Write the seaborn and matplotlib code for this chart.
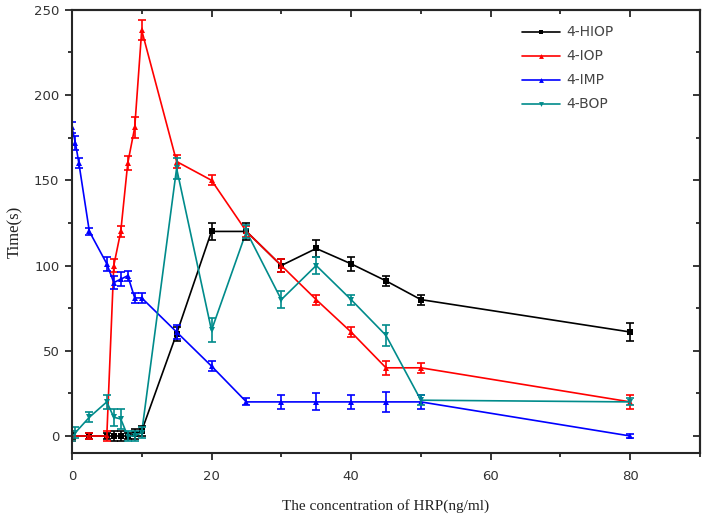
import numpy as np
import pandas as pd
import matplotlib
matplotlib.use("Agg")
import matplotlib.pyplot as plt
import seaborn as sns
from matplotlib.ticker import MultipleLocator

# Datos
series_names = ["4-HIOP", "4-IOP", "4-IMP", "4-BOP"]

hiop_x = [0, 2.5, 5, 6, 7, 8, 9, 10, 15, 20, 25, 30, 35, 40, 45, 50, 80]
hiop_y = [0, 0, 0, 0, 0, 0, 1, 3, 60, 120, 120, 100, 110, 101, 91, 80, 61]
hiop_e = [2, 2, 2, 3, 3, 2, 3, 3, 4, 5, 5, 4, 5, 4, 3, 3, 5]

iop_x = [0, 2.5, 5, 6, 7, 8, 9, 10, 15, 20, 25, 30, 35, 40, 45, 50, 80]
iop_y = [0, 0, 0, 100, 120, 160, 181, 238, 161, 150, 120, 100, 80, 61, 40, 40, 20]
iop_e = [3, 2, 3, 4, 3, 4, 6, 6, 4, 3, 3, 4, 3, 3, 4, 3, 4]

imp_x = [0, 0.5, 1, 2.5, 5, 6, 7, 8, 9, 10, 15, 20, 25, 30, 35, 40, 45, 50, 80]
imp_y = [181, 172, 160, 120, 101, 90, 92, 94, 81, 81, 61, 41, 20, 20, 20, 20, 20, 20, 0]
imp_e = [3, 4, 3, 2, 4, 4, 4, 3, 3, 3, 4, 3, 2, 4, 5, 4, 6, 4, 1]

bop_x = [0, 0.5, 2.5, 5, 6, 7, 8, 9, 10, 15, 20, 25, 30, 35, 40, 45, 50, 80]
bop_y = [0, 2, 11, 20, 11, 10, 0, 0, 2, 157, 62, 120, 80, 100, 80, 59, 21, 20]
bop_e = [3, 3, 3, 4, 5, 6, 3, 3, 3, 6, 7, 4, 5, 5, 3, 6, 3, 2]

colors = {"4-HIOP": "#000000", "4-IOP": "#ff0000", "4-IMP": "#0000ff", "4-BOP": "#008b8b"}
markers = {"4-HIOP": "s", "4-IOP": "^", "4-IMP": "^", "4-BOP": "v"}

all_x = [hiop_x, iop_x, imp_x, bop_x]
all_y = [hiop_y, iop_y, imp_y, bop_y]
all_e = [hiop_e, iop_e, imp_e, bop_e]

frames = []
for name, xs, ys, es in zip(series_names, all_x, all_y, all_e):
    frames.append(pd.DataFrame({"conc": xs, "time": ys, "err": es, "serie": name}))
data = pd.concat(frames, ignore_index=True)

sns.set_style("ticks")
fig = plt.figure(figsize=(7.05, 5.16), dpi=100)
ax = fig.add_axes([0.102, 0.122, 0.891, 0.859])

sns.lineplot(
    data=data, x="conc", y="time", hue="serie", style="serie",
    palette=colors, markers=markers, dashes=False, sort=False,
    estimator=None, linewidth=1.2, markersize=4.5, markeredgewidth=0,
    ax=ax, legend=True,
)

# Barras de error
for name in series_names:
    d = data[data.serie == name]
    ax.errorbar(d.conc, d.time, yerr=d.err, fmt="none", ecolor=colors[name],
                elinewidth=1.2, capsize=3, capthick=1.2)

ax.set_xlim(0, 90)
ax.set_ylim(-10, 250)
ax.xaxis.set_major_locator(MultipleLocator(20))
ax.xaxis.set_minor_locator(MultipleLocator(10))
ax.yaxis.set_major_locator(MultipleLocator(50))
ax.yaxis.set_minor_locator(MultipleLocator(25))
ax.set_xticks([0, 20, 40, 60, 80])
ax.tick_params(which="major", direction="out", length=5, width=1.3,
               labelsize=9.5, labelcolor="#333333")
ax.tick_params(axis="x", which="major", pad=7)
ax.tick_params(axis="y", which="major", pad=4)
ax.tick_params(which="minor", direction="out", length=3, width=1.3)
for sp in ax.spines.values():
    sp.set_linewidth(1.5)

# Ticks espejo hacia dentro (estilo Origin)
secx = ax.secondary_xaxis("top")
secx.xaxis.set_major_locator(MultipleLocator(20))
secx.xaxis.set_minor_locator(MultipleLocator(10))
secx.tick_params(which="both", direction="in", labeltop=False, width=1.3)
secx.tick_params(which="major", length=5)
secx.tick_params(which="minor", length=3)
secy = ax.secondary_yaxis("right")
secy.yaxis.set_major_locator(MultipleLocator(50))
secy.yaxis.set_minor_locator(MultipleLocator(25))
secy.tick_params(which="both", direction="in", labelright=False, width=1.3)
secy.tick_params(which="major", length=5)
secy.tick_params(which="minor", length=3)
for s in (secx, secy):
    for sp in s.spines.values():
        sp.set_linewidth(1.5)

ax.set_xlabel("The concentration of HRP(ng/ml)", family="Liberation Serif",
              fontsize=11, color="#222222", labelpad=12)
ax.set_ylabel("Time(s)", family="Liberation Serif", fontsize=12,
              color="#222222", labelpad=8)

handles, labels = ax.get_legend_handles_labels()
for h in handles:
    h.set_markersize(3.5)
ax.legend(handles, labels, loc="upper left", bbox_to_anchor=(0.722, 0.975),
          bbox_transform=fig.transFigure, frameon=False, fontsize=10,
          labelspacing=0.72, handlelength=2.8, handletextpad=0.45,
          labelcolor="#444444")

fig.savefig("out.png", dpi=100)
